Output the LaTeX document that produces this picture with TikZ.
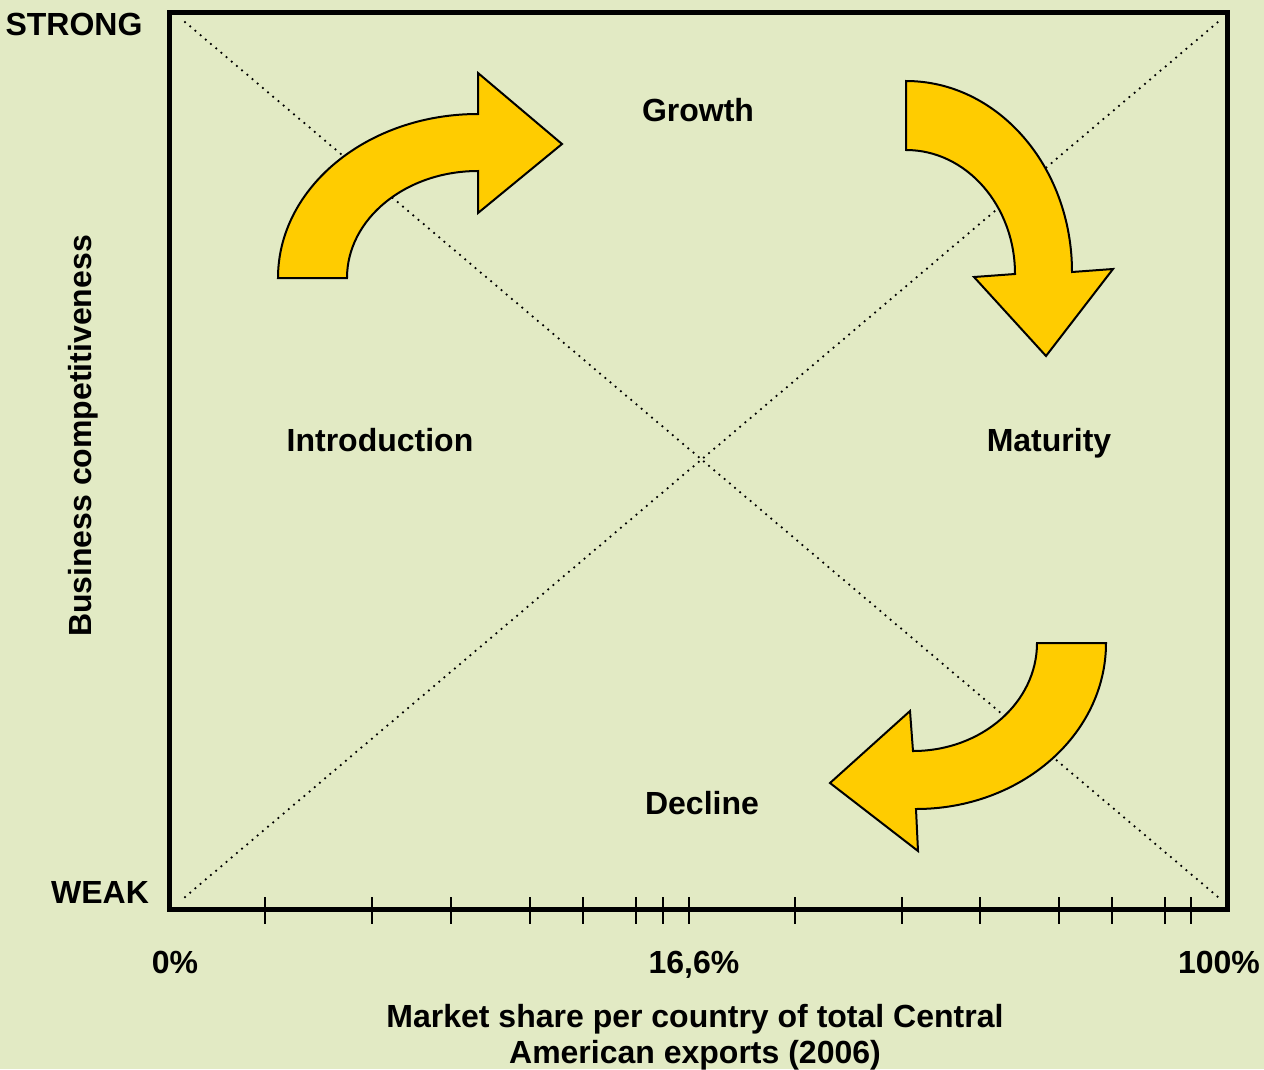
\documentclass[tikz,border=0pt]{standalone}
\usepackage{fontspec}
\setmainfont{Liberation Sans}
\definecolor{bgcol}{RGB}{226,234,196}
\definecolor{arrowyellow}{RGB}{255,204,0}
\begin{document}
\begin{tikzpicture}[x=1pt,y=-1pt,
  lbl/.style={font=\fontsize{32}{37}\selectfont\bfseries, inner sep=0pt, anchor=base},
  bigarrow/.style={fill=arrowyellow, draw=black, line width=2pt, line join=miter},
  tickmark/.style={line width=2pt},
  frameline/.style={line width=5pt},
  diag/.style={line width=2.5pt, line cap=round, dash pattern=on 0pt off 6.8pt}]
\fill[bgcol] (0,0) rectangle (1264,1069);
\useasboundingbox (0,0) rectangle (1264,1069);
% frame
\coordinate (ftl) at (169,12);
\coordinate (fbr) at (1227,909);
\draw[frameline] (ftl) rectangle (fbr);
% diagonals
\coordinate (d1) at (185,22);
\coordinate (d2) at (1218,897);
\coordinate (d3) at (185,897);
\coordinate (d4) at (1218,22);
\draw[diag] (d1) -- (d2);
\draw[diag] (d3) -- (d4);
% ticks
\foreach \x in {265,372,451,530,583,636,663,689,795,902,980,1059,1112,1165,1191}
  \draw[tickmark] (\x,897) -- (\x,924);
% arrows
\draw[bigarrow] (278,278) .. controls (278,187.4) and (367.5,114) .. (478,114)
  -- (478,73) -- (562,144) -- (478,213) -- (478,171)
  .. controls (405.6,171) and (347,218.9) .. (347,278) -- cycle;
\draw[bigarrow] (906,81) .. controls (997.7,81) and (1072,166.5) .. (1072,272)
  -- (1113,269) -- (1046,356) -- (974,277) -- (1015,274)
  .. controls (1015,205.5) and (966.2,150) .. (906,150) -- cycle;
\draw[bigarrow] (1037,643) -- (1106,643) .. controls (1106,734.7) and (1020.9,809) .. (916,809)
  -- (918,851) -- (830,783) -- (910,711) -- (913,751)
  .. controls (981.5,751) and (1037,702.6) .. (1037,643) -- cycle;
% labels
\node[lbl] (strong) at (74,35) {STRONG};
\node[lbl] (weak) at (100,903) {WEAK};
\node[lbl] (growth) at (698,121) {Growth};
\node[lbl] (intro) at (380,451) {Introduction};
\node[lbl] (maturity) at (1049,451) {Maturity};
\node[lbl] (decline) at (702,814) {Decline};
\node[lbl] (p0) at (175,973) {0\%};
\node[lbl] (p16) at (694,973) {16,6\%};
\node[lbl] (p100) at (1219,973) {100\%};
\node[lbl] (xt1) at (695,1027) {Market share per country of total Central};
\node[lbl] (xt2) at (695,1063) {American exports (2006)};
\node[lbl, rotate=90] (yt) at (91,436) {Business competitiveness};
\end{tikzpicture}
\end{document}
